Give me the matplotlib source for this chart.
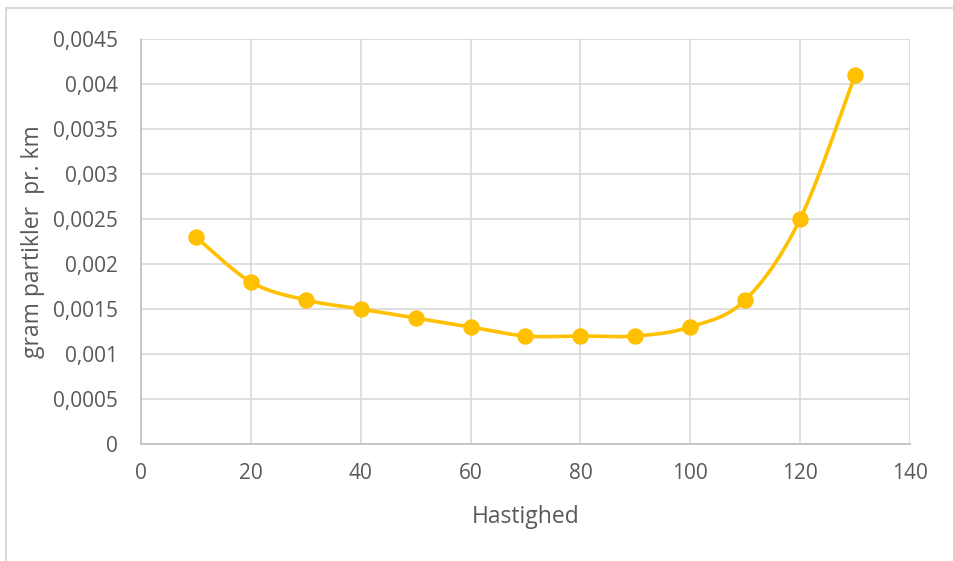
import numpy as np
import matplotlib
matplotlib.use('Agg')
import matplotlib.pyplot as plt
from matplotlib.patches import Rectangle
from matplotlib.ticker import FuncFormatter, MultipleLocator

# data
speed = [10, 20, 30, 40, 50, 60, 70, 80, 90, 100, 110, 120, 130]
grams = [0.0023, 0.0018, 0.0016, 0.0015, 0.0014, 0.0013, 0.0012,
         0.0012, 0.0012, 0.0013, 0.0016, 0.0025, 0.0041]

LINE_COL = '#FFC000'
TEXT_COL = '#595959'
GRID_COL = '#D9D9D9'


def smooth(xs, ys, n=40):
    # excel-like smoothed line (catmull-rom bezier)
    p = np.column_stack([xs, ys]).astype(float)
    p = np.vstack([p[0], p, p[-1]])
    out = []
    t = np.linspace(0, 1, n)[:, None]
    for i in range(1, len(p) - 2):
        a, b = p[i], p[i + 1]
        c1 = a + (p[i + 1] - p[i - 1]) / 6
        c2 = b - (p[i + 2] - p[i]) / 6
        seg = ((1 - t) ** 3) * a + 3 * ((1 - t) ** 2) * t * c1 + 3 * (1 - t) * t ** 2 * c2 + t ** 3 * b
        out.append(seg)
    out = np.vstack(out)
    return out[:, 0], out[:, 1]


plt.rcParams['font.family'] = ['Open Sans', 'DejaVu Sans']

fig = plt.figure(figsize=(9.54, 5.61), dpi=100)
fig.patches.append(Rectangle((6 / 954, -0.1), 1.2, 1 - 8 / 561 + 0.1, transform=fig.transFigure,
                             fill=False, edgecolor=GRID_COL, linewidth=1.5))

ax = fig.add_axes([141 / 954, 1 - 444 / 561, 769 / 954, 405 / 561])

sx, sy = smooth(speed, grams)
ax.plot(sx, sy, color=LINE_COL, lw=2.6, zorder=3, solid_capstyle='round')
ax.plot(speed, grams, 'o', color=LINE_COL, markersize=10.8, zorder=4)

ax.set_xlim(0, 140)
ax.set_ylim(0, 0.0045)
ax.xaxis.set_major_locator(MultipleLocator(20))
ax.yaxis.set_major_locator(MultipleLocator(0.0005))
ax.yaxis.set_major_formatter(FuncFormatter(lambda v, _: ('%g' % round(v, 6)).replace('.', ',')))

ax.grid(True, color=GRID_COL, lw=1.2)
ax.set_axisbelow(True)
for s in ['top', 'right']:
    ax.spines[s].set_visible(False)
for s in ['left', 'bottom']:
    ax.spines[s].set_color('#BFBFBF')
    ax.spines[s].set_linewidth(1.2)
ax.tick_params(length=0, labelsize=15, colors=TEXT_COL)
ax.tick_params(axis='y', pad=16.5)
ax.tick_params(axis='x', pad=14)

ax.set_xlabel('Hastighed', fontsize=16.5, color=TEXT_COL, va='center')
ax.set_ylabel('gram partikler  pr. km', fontsize=16.5, color=TEXT_COL, va='center')
ax.xaxis.set_label_coords(0.5, (444 - 517) / 405)
ax.yaxis.set_label_coords((33 - 141) / 769, 0.5)

fig.savefig('out.png', dpi=100)
